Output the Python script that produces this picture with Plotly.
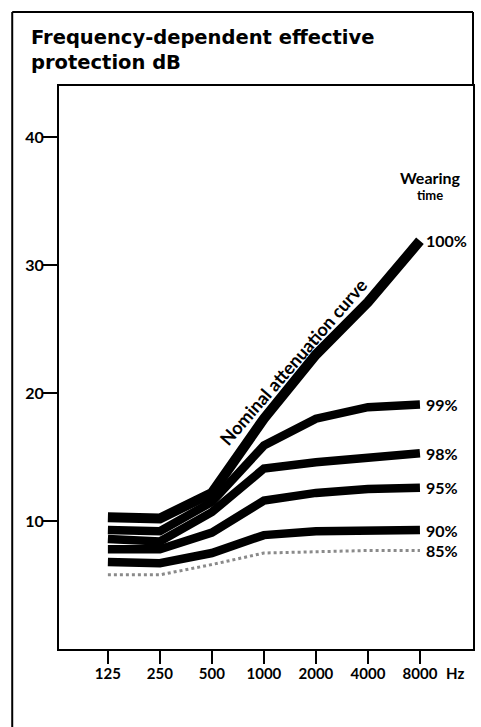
import plotly.graph_objects as go

freqs = ["125", "250", "500", "1000", "2000", "4000", "8000"]
xpos = [0, 1, 2, 3, 4, 5, 6]
series_names = ["100%", "99%", "98%", "95%", "90%", "85%"]
v100 = [10.3, 10.2, 12.2, 18.0, 23.0, 27.1, 31.9]
v99 = [9.3, 9.2, 11.5, 15.9, 18.0, 18.9, 19.1]
v98 = [8.6, 8.4, 10.7, 14.1, 14.6, 15.0, 15.3]
v95 = [7.8, 7.8, 9.1, 11.6, 12.2, 12.5, 12.6]
v90 = [6.8, 6.7, 7.5, 8.9, 9.2, 9.3, 9.3]
v85 = [5.8, 5.8, 6.6, 7.5, 7.6, 7.7, 7.7]
yticks = [10, 20, 30, 40]

FONT = "Lato"
TFONT = "DejaVu Sans"
W, H = 481, 727
L, R, T, B = 59, 6, 86, 78
PW, PH = W - L - R, H - T - B


def px_x(px):
    return (px - L) / PW


def px_y(py):
    return (H - B - py) / PH


fig = go.Figure()
all_vals = [v100, v99, v98, v95, v90, v85]
widths = [10, 8.5, 8.5, 8.5, 8.5, 3]
for name, vals, w in zip(series_names, all_vals, widths):
    if name == "85%":
        line = dict(color="#8a8a8a", width=w, dash="dot")
    else:
        line = dict(color="black", width=w)
    fig.add_trace(go.Scatter(x=xpos, y=vals, mode="lines", line=line,
                             name=name, showlegend=False, hoverinfo="skip"))
    fig.add_annotation(x=xpos[-1], y=vals[-1], text=name, showarrow=False,
                       xanchor="left", yanchor="middle", xshift=4,
                       font=dict(family=FONT, size=16, color="black", weight="bold"))

# "Hz" unit after the last tick label
fig.add_annotation(x=xpos[-1], xref="x", y=px_y(673), yref="paper", text="Hz",
                   showarrow=False, xanchor="left", yanchor="middle", xshift=24,
                   font=dict(family=FONT, size=15, color="black", weight="bold"))

fig.add_annotation(x=3.56, y=22.4, text="Nominal attenuation curve", showarrow=False,
                   textangle=-49, xanchor="center", yanchor="middle",
                   font=dict(family=FONT, size=18, color="black", weight="bold"))

fig.add_annotation(x=px_x(432), xref="paper", y=px_y(177), yref="paper", text="Wearing",
                   showarrow=False, xanchor="center", yanchor="middle",
                   font=dict(family=FONT, size=16, color="black", weight="bold"))
fig.add_annotation(x=px_x(432), xref="paper", y=px_y(195), yref="paper", text="time",
                   showarrow=False, xanchor="center", yanchor="middle",
                   font=dict(family=FONT, size=13, color="black", weight="bold"))

# Title (two lines)
fig.add_annotation(x=px_x(29), xref="paper", y=px_y(50), yref="paper",
                   text="Frequency-dependent effective<br>protection dB", showarrow=False,
                   xanchor="left", yanchor="middle", align="left",
                   font=dict(family=TFONT, size=19.5, color="black", weight="bold"))

fig.update_layout(
    width=W, height=H,
    margin=dict(l=L, r=R, t=T, b=B),
    paper_bgcolor="white", plot_bgcolor="white",
    xaxis=dict(range=[-0.94, 7.02], tickmode="array", tickvals=xpos, ticktext=freqs,
               showgrid=False, zeroline=False, showline=True, linecolor="black",
               linewidth=2, mirror=True, ticks="outside", ticklen=13, tickwidth=2,
               tickcolor="black", ticklabelstandoff=-3,
               tickfont=dict(family=FONT, size=15, color="black", weight="bold")),
    yaxis=dict(range=[0, 44], tickmode="array", tickvals=yticks,
               showgrid=False, zeroline=False, showline=True, linecolor="black",
               linewidth=2, mirror=True, ticks="outside", ticklen=15, tickwidth=2,
               tickcolor="black", ticklabelstandoff=-5,
               tickfont=dict(family=FONT, size=16, color="black", weight="bold")),
    shapes=[
        dict(type="line", xref="paper", yref="paper", x0=px_x(12), x1=px_x(12),
             y0=px_y(H + 5), y1=px_y(12), line=dict(color="black", width=2)),
        dict(type="line", xref="paper", yref="paper", x0=px_x(12), x1=1.0,
             y0=px_y(12), y1=px_y(12), line=dict(color="black", width=2)),
        dict(type="line", xref="paper", yref="paper", x0=1.0, x1=1.0,
             y0=1.0, y1=px_y(12), line=dict(color="black", width=2)),
    ],
)

fig.write_html("out.html", config={"displayModeBar": False},
               post_script="document.body.style.margin='0';document.body.style.overflow='hidden';")
